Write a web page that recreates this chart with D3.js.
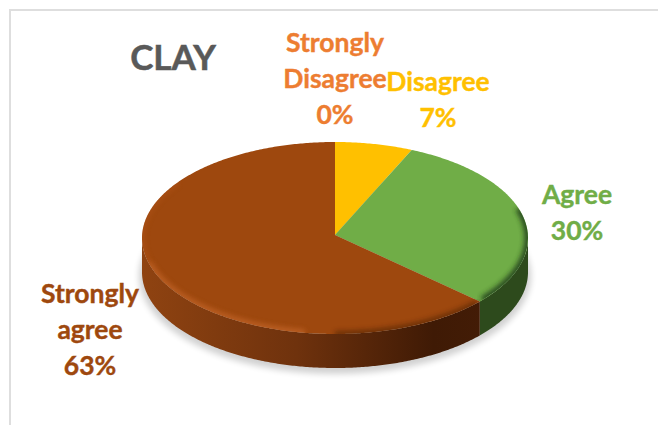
<!DOCTYPE html>
<html lang="en">
<head>
<meta charset="UTF-8">
<title>CLAY</title>
<script src="https://d3js.org/d3.v7.min.js"></script>
<style>
  html, body { margin: 0; padding: 0; background: #fff; }
  svg { display: block; }
  text { font-family: Lato, "Open Sans", sans-serif; font-weight: 700; text-anchor: middle; }
</style>
</head>
<body>
<svg id="chart" width="658" height="425"></svg>
<script>
const categories = ["Strongly Disagree", "Disagree", "Agree", "Strongly agree"];
const values = [0, 6.5, 30, 63.5];
const percentLabels = ["0%", "7%", "30%", "63%"];
const labelLines = [["Strongly", "Disagree"], ["Disagree"], ["Agree"], ["Strongly", "agree"]];
const colors = ["#ed7d31", "#ffc000", "#70ad47", "#9e480e"];
const sideColors = ["#8a3f10", "#7a5c00", "#2d4a1c", "url(#brownSide)"];

const width = 658, height = 425;
const cx = 335, cy = 238, rx = 193, ry = 96, depth = 34;
const apexY = 235; // the slices meet a little above the ellipse centre (perspective)
const lineHeight = 36;
// centre x, first baseline y of each label
const labelPos = [[335, 52], [438, 91], [577, 204], [90, 303]];

const svg = d3.select("#chart");
const defs = svg.append("defs");

const grad = defs.append("linearGradient").attr("id", "brownSide")
  .attr("gradientUnits", "userSpaceOnUse")
  .attr("x1", cx - rx).attr("x2", cx + 150).attr("y1", 0).attr("y2", 0);
grad.append("stop").attr("offset", "0").attr("stop-color", "#8f4311");
grad.append("stop").attr("offset", "0.45").attr("stop-color", "#6f320d");
grad.append("stop").attr("offset", "0.85").attr("stop-color", "#3f1a05");
grad.append("stop").attr("offset", "1").attr("stop-color", "#431c06");

const blur = (id, sd) => defs.append("filter").attr("id", id)
  .attr("x", "-10%").attr("y", "-10%").attr("width", "120%").attr("height", "120%")
  .append("feGaussianBlur").attr("stdDeviation", sd);
blur("blur3", 3);
blur("blur2", 2.5);

// chart frame, only top and left edges are visible in the crop
svg.append("path")
  .attr("d", d3.line()([[10, height], [10, 10], [width, 10]]))
  .attr("fill", "none").attr("stroke", "#dedede").attr("stroke-width", 2);

// soft shadow under the pie
svg.append("ellipse")
  .attr("cx", cx).attr("cy", cy + depth + 4).attr("rx", rx + 3).attr("ry", ry + 2)
  .attr("fill", "#000").attr("opacity", 0.18).attr("filter", "url(#blur3)");

const pie = d3.pie().sort(null).value(d => d)(values);

const px = a => cx + rx * Math.sin(a);
const py = a => cy - ry * Math.cos(a);
const samples = (a0, a1) => d3.range(a0, a1, 0.01).concat(a1);

// side wall, only the front half (right to left through the bottom)
const wall = d3.area().x(px).y0(py).y1(a => py(a) + depth);
pie.forEach((s, i) => {
  const a0 = Math.max(s.startAngle, Math.PI / 2);
  const a1 = Math.min(s.endAngle, Math.PI * 1.5);
  if (a1 <= a0) return;
  svg.append("path")
    .attr("d", wall(samples(a0, a1)))
    .attr("fill", sideColors[i]);
});

// top face
const rimLine = d3.line().x(px).y(py);
defs.append("clipPath").attr("id", "topClip")
  .append("ellipse").attr("cx", cx).attr("cy", cy).attr("rx", rx).attr("ry", ry);

const topFace = svg.append("g");
pie.forEach((s, i) => {
  if (s.endAngle === s.startAngle) return;
  topFace.append("path")
    .attr("d", `M${cx},${apexY}L` + rimLine(samples(s.startAngle, s.endAngle)).slice(1) + "Z")
    .attr("fill", colors[i]);
});

// bevel along the front rim of the top face
const rim = svg.append("g").attr("clip-path", "url(#topClip)");
const rimPiece = (from, to, color, w, op) => rim.append("path")
  .attr("d", rimLine(samples(from, to)))
  .attr("fill", "none").attr("stroke", color).attr("stroke-width", w)
  .attr("stroke-linecap", "butt")
  .attr("opacity", op).attr("filter", "url(#blur2)");

const brown = pie[3], green = pie[2];
rimPiece(Math.PI * 0.40, green.endAngle - 0.02, "#24401a", 7, 0.9);
rimPiece(brown.startAngle + 0.02, Math.PI * 1.0, "#3f1a05", 6, 0.55);
rimPiece(Math.PI * 1.05, Math.PI * 1.42, "#c4662a", 7, 0.7);
rimPiece(Math.PI * 1.42, Math.PI * 1.7, "#b5561a", 6, 0.4);

// title and labels
svg.append("text").attr("x", 173).attr("y", 70)
  .attr("font-size", 35).attr("fill", "#595959")
  .attr("stroke", "#595959").attr("stroke-width", 0.5).text("CLAY");

categories.forEach((c, i) => {
  const t = svg.append("text").attr("font-size", 26.5).attr("fill", colors[i])
    .attr("stroke", colors[i]).attr("stroke-width", 0.4);
  labelLines[i].concat(percentLabels[i]).forEach((line, j) => {
    t.append("tspan").attr("x", labelPos[i][0]).attr("y", labelPos[i][1] + j * lineHeight).text(line);
  });
});
</script>
</body>
</html>
